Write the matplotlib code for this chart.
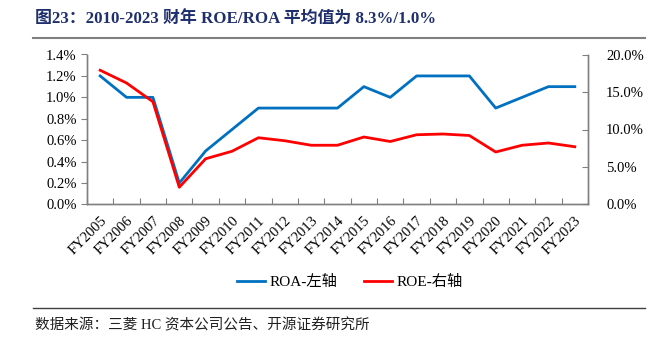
import matplotlib
matplotlib.use("Agg")
import matplotlib.pyplot as plt
from matplotlib.ticker import FuncFormatter, MultipleLocator
from matplotlib.lines import Line2D

years = ["FY2005", "FY2006", "FY2007", "FY2008", "FY2009", "FY2010", "FY2011",
         "FY2012", "FY2013", "FY2014", "FY2015", "FY2016", "FY2017", "FY2018",
         "FY2019", "FY2020", "FY2021", "FY2022", "FY2023"]
roa = [1.2, 1.0, 1.0, 0.2, 0.5, 0.7, 0.9, 0.9, 0.9, 0.9, 1.1, 1.0, 1.2, 1.2,
       1.2, 0.9, 1.0, 1.1, 1.1]
roe = [17.9, 16.2, 13.7, 2.3, 6.1, 7.1, 8.9, 8.5, 7.9, 7.9, 9.0, 8.4, 9.3, 9.4,
       9.2, 7.0, 7.9, 8.2, 7.7]

title = "图23：2010-2023 财年 ROE/ROA 平均值为 8.3%/1.0%"
source = "数据来源：三菱 HC 资本公司公告、开源证券研究所"
roa_label = "ROA-左轴"
roe_label = "ROE-右轴"

serif = ["Liberation Serif", "Noto Sans CJK SC"]
cjk = ["Liberation Serif", "Noto Sans CJK SC"]

W, H = 659, 344
fig = plt.figure(figsize=(W / 100, H / 100), dpi=100)

ax = fig.add_axes([87 / W, 1 - 204.5 / H, (588 - 87) / W, (204.5 - 54.5) / H])
ax2 = ax.twinx()

x = list(range(len(years)))
blue = "#0070C0"
red = "#FF0000"
ax.plot(x, roa, color=blue, lw=2.0, zorder=3)
ax2.plot(x, roe, color=red, lw=2.0, zorder=3)

ax.set_xlim(-0.5, len(years) - 0.5)
ax.set_ylim(0, 1.4)
ax2.set_ylim(0, 20)
ax.yaxis.set_major_locator(MultipleLocator(0.2))
ax2.yaxis.set_major_locator(MultipleLocator(5))
ax.yaxis.set_major_formatter(FuncFormatter(lambda v, p: f"{v:.1f}%"))
ax2.yaxis.set_major_formatter(FuncFormatter(lambda v, p: f"{v:.1f}%"))

ax.set_xticks([i - 0.5 for i in range(len(years) + 1)])
ax.set_xticklabels([])
ax.set_xticks(x, minor=True)
ax.set_xticklabels(years, minor=True, rotation=45, ha="right", va="top",
                   rotation_mode="anchor", fontfamily=serif, fontsize=10.5)
ax.tick_params(axis="x", which="major", direction="in", length=4, color="#808080")
ax.tick_params(axis="x", which="minor", length=0, pad=7)
ax.tick_params(axis="y", direction="out", length=4, color="#808080", labelsize=10.5)
ax2.tick_params(axis="y", direction="in", length=4, color="#808080", labelsize=10.5, pad=13)
for lab in ax.get_yticklabels() + ax2.get_yticklabels():
    lab.set_fontfamily(serif)

for a in (ax, ax2):
    a.spines["top"].set_visible(False)
    for s in ("left", "right", "bottom"):
        a.spines[s].set_color("#808080")
        a.spines[s].set_linewidth(1.0)
    a.patch.set_visible(False)

# title
fig.text(35 / W, 1 - 19 / H, title, fontsize=12.2, fontweight="bold",
         color="#1F2F6E", family=cjk, ha="left", va="center")
fig.add_artist(Line2D([33 / W, 645 / W], [1 - 38 / H, 1 - 38 / H],
                      color="#808080", lw=1.5))

# legend
handles = [Line2D([], [], color=blue, lw=2.0), Line2D([], [], color=red, lw=2.0)]
fig.legend(handles, [roa_label, roe_label], loc="center", ncol=2,
           bbox_to_anchor=(350 / W, 1 - 282 / H), frameon=False,
           prop={"family": cjk, "size": 11}, handlelength=1.85,
           handletextpad=0.3, columnspacing=1.75)

# footer
fig.add_artist(Line2D([33 / W, 645 / W], [1 - 308 / H, 1 - 308 / H],
                      color="#404040", lw=1.0))
fig.text(35 / W, 1 - 325 / H, source, fontsize=10.5, family=cjk,
         color="#202020", ha="left", va="center")

fig.savefig("out.png", dpi=100)
